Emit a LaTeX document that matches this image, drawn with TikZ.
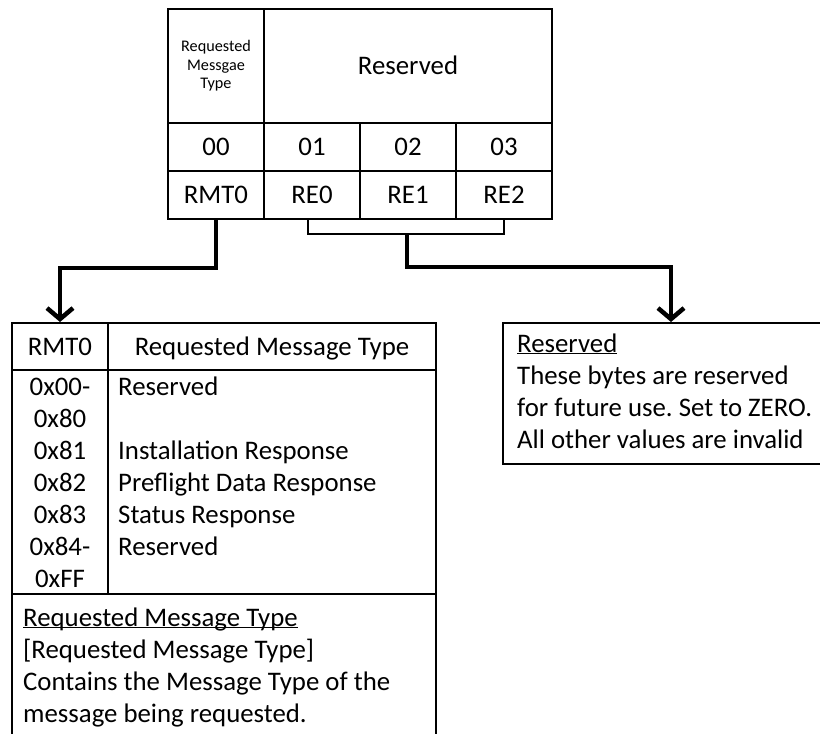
\documentclass[tikz,border=0pt]{standalone}
\usepackage{fontspec}
\setmainfont{Carlito}
\usetikzlibrary{arrows.meta}
% underline drawn just below the baseline, running through descenders
\newcommand{\ulbase}[1]{\underline{\smash{#1}}}
\begin{document}
\frenchspacing
\begin{tikzpicture}[x=1pt,y=-1pt,
  big/.style={font=\fontsize{26.8}{32}\selectfont},
  cell/.style={draw,line width=2pt,inner sep=0pt,text height=17pt,text depth=0pt,big},
  frame/.style={draw,line width=2pt,inner sep=0pt},
  txt/.style={inner sep=0pt,big},
  bracket/.style={line width=1.3pt},
  conn/.style={line width=4.5pt,-{Straight Barb[length=11pt,width=26pt]}}]
\useasboundingbox[fill=white] (0,0) rectangle (820,734);
\clip (0,0) rectangle (820,734);

% byte layout table
\node[frame,minimum width=96pt,minimum height=114pt,align=center,
  font=\fontsize{16.2}{18.5}\selectfont] (h1) at (216,66) {Requested\\Messgae\\Type};
\node[cell,minimum width=288pt,minimum height=114pt] (h2) at (408,66) {Reserved};
\node[cell,minimum width=96pt,minimum height=48pt] (n0) at (216,147) {00};
\node[cell,minimum width=96pt,minimum height=48pt] (n1) at (312,147) {01};
\node[cell,minimum width=96pt,minimum height=48pt] (n2) at (408,147) {02};
\node[cell,minimum width=96pt,minimum height=48pt] (n3) at (504,147) {03};
\node[cell,minimum width=96pt,minimum height=48pt] (RMT0) at (216,195) {RMT0};
\node[cell,minimum width=96pt,minimum height=48pt] (RE0) at (312,195) {RE0};
\node[cell,minimum width=96pt,minimum height=48pt] (RE1) at (408,195) {RE1};
\node[cell,minimum width=96pt,minimum height=48pt] (RE2) at (504,195) {RE2};

% Requested Message Type table
\node[cell,minimum width=96pt,minimum height=47pt] (lh1) at (60,346.5) {RMT0};
\node[cell,minimum width=328pt,minimum height=47pt] (lh2) at (272,346.5) {Requested Message Type};
\node[frame,minimum width=96pt,minimum height=224pt] (lb1) at (60,482) {};
\node[frame,minimum width=328pt,minimum height=224pt] (lb2) at (272,482) {};
\node[frame,minimum width=424pt,minimum height=166pt] (lbox) at (224,677) {};

\node[txt,anchor=base] (v0) at (60,395) {0x00-};
\node[txt,anchor=base] (v1) at (60,427) {0x80};
\node[txt,anchor=base] (v2) at (60,459) {0x81};
\node[txt,anchor=base] (v3) at (60,491) {0x82};
\node[txt,anchor=base] (v4) at (60,523) {0x83};
\node[txt,anchor=base] (v5) at (60,555) {0x84-};
\node[txt,anchor=base] (v6) at (60,587) {0xFF};
\node[txt,anchor=base west] (d0) at (118,395) {Reserved};
\node[txt,anchor=base west] (d2) at (118,459) {Installation Response};
\node[txt,anchor=base west] (d3) at (118,491) {Preflight Data Response};
\node[txt,anchor=base west] (d4) at (118,523) {Status Response};
\node[txt,anchor=base west] (d5) at (118,555) {Reserved};

\node[txt,anchor=base west] (t0) at (23,626) {\ulbase{Requested Message Type}};
\node[txt,anchor=base west] (t1) at (23,658) {[Requested Message Type]};
\node[txt,anchor=base west] (t2) at (23,690) {Contains the Message Type of the};
\node[txt,anchor=base west] (t3) at (23,722) {message being requested.};

% Reserved note
\node[frame,minimum width=336pt,minimum height=141pt] (rbox) at (671,393.5) {};
\node[txt,anchor=base west] (r0) at (517,352) {\ulbase{Reserved}};
\node[txt,anchor=base west] (r1) at (517,384) {These bytes are reserved};
\node[txt,anchor=base west] (r2) at (517,416) {for future use. Set to ZERO.};
\node[txt,anchor=base west] (r3) at (517,448) {All other values are invalid};

% connectors
\coordinate (bl) at (308,234);
\coordinate (br) at (504,234);
\coordinate (bm) at (407,234);
\draw[bracket] (RE0.south -| bl) -- (bl) -- (br) -- (RE2.south -| br);
\coordinate (lj) at (60,268);
\coordinate (rj) at (671,267);
\draw[conn] (RMT0.south) |- (lj) -- (lh1.north);
\draw[conn] (bm) |- (rj) -- (rbox.north);
\end{tikzpicture}
\end{document}
